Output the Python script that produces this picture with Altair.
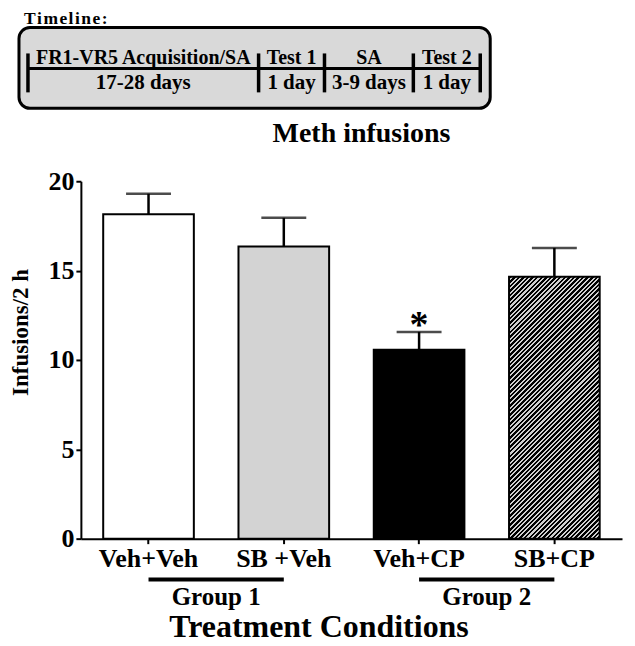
import math
import altair as alt
import pandas as pd

# ---------------- data ----------------
conditions = ["Veh+Veh", "SB +Veh", "Veh+CP", "SB+CP"]
means = [18.15, 16.35, 10.57, 14.65]
sems = [1.15, 1.60, 1.00, 1.62]
fills = ["#ffffff", "#d3d3d3", "#000000", "hatch"]
signif = ["", "", "*", ""]

group_names = ["Group 1", "Group 2"]
group_first = ["Veh+Veh", "Veh+CP"]
group_last = ["SB +Veh", "SB+CP"]

phase_names = ["FR1-VR5 Acquisition/SA", "Test 1", "SA", "Test 2"]
phase_durations = ["17-28 days", "1 day", "3-9 days", "1 day"]
phase_edges = [9, 240, 306, 395, 462]  # timeline column boundaries (timeline units)

# ---------------- layout constants ----------------
FONT = "Liberation Serif"
W, H = 542, 358
Y_MAX = 20
P_INNER = 0.33
STEP = W / (len(conditions))
BW = STEP * (1 - P_INNER)

BOX_W, BOX_H = 472, 81
TL_OVERHANG = 62  # how far the timeline box reaches left of the plot's y axis

# ---------------- timeline ----------------
tl_x = alt.Scale(domain=[TL_OVERHANG, BOX_W], zero=False, nice=False)
tl_y = alt.Scale(domain=[0, BOX_H], reverse=True, zero=False, nice=False)

box_df = pd.DataFrame({"x": [0], "x2": [BOX_W], "y": [0], "y2": [BOX_H]})
box = alt.Chart(box_df).mark_rect(
    cornerRadius=11, fill="#d9d9d9", stroke="black", strokeWidth=3
).encode(
    x=alt.X("x:Q", scale=tl_x, axis=None),
    x2="x2:Q",
    y=alt.Y("y:Q", scale=tl_y, axis=None),
    y2="y2:Q",
)

hline_df = pd.DataFrame({"x": [phase_edges[0]], "x2": [phase_edges[-1]], "y": [41]})
hline = alt.Chart(hline_df).mark_rule(color="black", strokeWidth=3).encode(
    x=alt.X("x:Q", scale=tl_x, axis=None), x2="x2:Q",
    y=alt.Y("y:Q", scale=tl_y, axis=None),
)

vline_df = pd.DataFrame({"x": phase_edges, "y": [26] * len(phase_edges), "y2": [65] * len(phase_edges)})
vlines = alt.Chart(vline_df).mark_rule(color="black", strokeWidth=3.5).encode(
    x=alt.X("x:Q", scale=tl_x, axis=None),
    y=alt.Y("y:Q", scale=tl_y, axis=None), y2="y2:Q",
)

mids = [(a + b) / 2 for a, b in zip(phase_edges[:-1], phase_edges[1:])]
phase_df = pd.DataFrame({"x": mids, "name": phase_names, "dur": phase_durations,
                         "y1": [37] * 4, "y2": [62] * 4})
phase_txt = alt.Chart(phase_df).mark_text(
    font=FONT, fontWeight="bold", fontSize=20, baseline="alphabetic", color="black"
).encode(x=alt.X("x:Q", scale=tl_x, axis=None), y=alt.Y("y1:Q", scale=tl_y, axis=None), text="name:N")
dur_txt = alt.Chart(phase_df).mark_text(
    font=FONT, fontWeight="bold", fontSize=21, baseline="alphabetic", color="black"
).encode(x=alt.X("x:Q", scale=tl_x, axis=None), y=alt.Y("y2:Q", scale=tl_y, axis=None), text="dur:N")

tl_label_df = pd.DataFrame({"x": [5], "y": [-3], "t": ["\u200a".join("Timeline:")]})
tl_label = alt.Chart(tl_label_df).mark_text(
    font=FONT, fontWeight="bold", fontSize=17.5, baseline="alphabetic", align="left", color="black"
).encode(x=alt.X("x:Q", scale=tl_x, axis=None), y=alt.Y("y:Q", scale=tl_y, axis=None), text="t:N")

timeline = alt.layer(box, hline, vlines, phase_txt, dur_txt, tl_label).properties(
    width=BOX_W - TL_OVERHANG, height=BOX_H
)

# ---------------- main bar chart ----------------
df = pd.DataFrame({"condition": conditions, "mean": means, "sem": sems,
                   "fill": fills, "sig": signif})
df["top"] = df["mean"] + df["sem"]

xs = alt.Scale(domain=conditions, paddingInner=P_INNER, paddingOuter=P_INNER / 2)
ys = alt.Scale(domain=[0, Y_MAX], nice=False)

x_enc = alt.X(
    "condition:N", scale=xs, sort=None,
    axis=alt.Axis(
        title="Treatment Conditions", labelAngle=0, labelFontSize=26,
        labelBaseline="alphabetic", labelPadding=23,
        titleFontSize=32, titleX=238, titleY=98, titleBaseline="alphabetic",
    ),
)
y_enc = alt.Y(
    "mean:Q", scale=ys,
    axis=alt.Axis(
        title="Infusions/2 h", values=[0, 5, 10, 15, 20], labelFontSize=26,
        labelPadding=2, titleFontSize=23, titleX=-48, titleY=151,
    ),
)

base = alt.Chart(df)

plain_bars = base.transform_filter("datum.fill != 'hatch'").mark_bar(
    stroke="black", strokeWidth=2
).encode(x=x_enc, y=y_enc, fill=alt.Fill("fill:N", scale=None))

# diagonal hatching via a striped linear gradient
hatch_value = means[fills.index("hatch")]
bar_h = hatch_value / Y_MAX * H
r = bar_h / BW
s = (1 + r) / (1 + r * r)
L = BW + bar_h
pitch = 4.6
black_frac = 0.55
stops = []
n = int(math.ceil(L / pitch))
for k in range(n):
    t0 = k * pitch / L
    t1 = min(1.0, (k + black_frac) * pitch / L)
    t2 = min(1.0, (k + 1) * pitch / L)
    stops += [
        alt.GradientStop(offset=min(1.0, t0), color="#000000"),
        alt.GradientStop(offset=t1, color="#000000"),
        alt.GradientStop(offset=t1, color="#cfcfcf"),
        alt.GradientStop(offset=t2, color="#cfcfcf"),
    ]
hatch = alt.Gradient(gradient="linear", stops=stops, x1=0, y1=0, x2=s, y2=s * r)

hatch_bars = base.transform_filter("datum.fill == 'hatch'").mark_bar(
    stroke="black", strokeWidth=2, fill=hatch
).encode(x=x_enc, y=y_enc)

err_rule = base.mark_rule(color="black", strokeWidth=2.5).encode(
    x=x_enc, y=y_enc, y2="top:Q"
)
err_cap = base.mark_tick(color="black", thickness=2.5, size=45).encode(
    x=x_enc, y=alt.Y("top:Q", scale=ys)
)
sig_txt = base.mark_text(
    font=FONT, fontWeight="bold", fontSize=38, baseline="alphabetic", dy=5, color="black"
).encode(x=x_enc, y=alt.Y("top:Q", scale=ys), text="sig:N")

grp_df = pd.DataFrame({"name": group_names, "first": group_first, "last": group_last})
grp_rule = alt.Chart(grp_df).mark_rule(color="black", strokeWidth=4).encode(
    x=alt.X("first:N", scale=xs, sort=None), x2="last:N", y=alt.value(399)
)
grp_txt = alt.Chart(grp_df).mark_text(
    font=FONT, fontWeight="bold", fontSize=25, baseline="alphabetic", dx=STEP / 2, color="black"
).encode(x=alt.X("first:N", scale=xs, sort=None), y=alt.value(424), text="name:N")

main = alt.layer(plain_bars, hatch_bars, err_rule, err_cap, sig_txt, grp_rule, grp_txt).properties(
    width=W, height=H,
    title=alt.TitleParams("Meth infusions", fontSize=28, frame="group", dx=10, offset=20,
                          font=FONT, fontWeight="bold", color="black"),
)

chart = alt.vconcat(timeline, main, spacing=10).properties(
    padding={"left": 2, "top": 2, "right": 5, "bottom": 0}
).configure_view(stroke=None).configure_axis(
    labelFont=FONT, labelFontWeight="bold", labelColor="black",
    titleFont=FONT, titleFontWeight="bold", titleColor="black",
    domainColor="black", domainWidth=2, tickColor="black", tickWidth=2, tickSize=5,
    grid=False,
).configure_text(font=FONT)

chart.save("out.html", embed_options={"renderer": "svg", "actions": False})
